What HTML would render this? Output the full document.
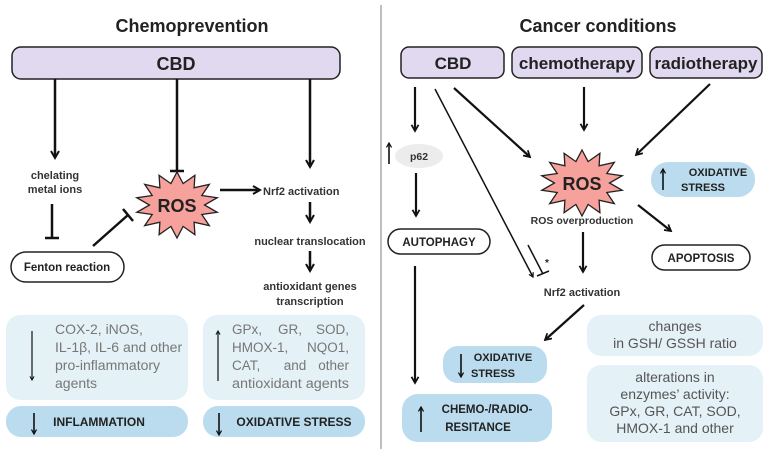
<!DOCTYPE html>
<html><head><meta charset="utf-8"><style>
html,body{margin:0;padding:0;background:#fff;}
svg{display:block;font-family:"Liberation Sans",sans-serif;}
.b{font-weight:bold;}
</style></head><body>
<svg width="770" height="449" viewBox="0 0 770 449" xmlns="http://www.w3.org/2000/svg">
<defs>
<marker id="a" viewBox="0 0 10 10" refX="8" refY="5" markerWidth="4" markerHeight="4" orient="auto"><path d="M1,1 L8,5 L1,9" fill="none" stroke="#111" stroke-width="2"/></marker>
</defs>
<rect width="770" height="449" fill="#fff"/>
<line x1="381" y1="5" x2="381" y2="449" stroke="#aaa" stroke-width="1.5"/>

<!-- LEFT -->
<text x="192" y="32" text-anchor="middle" class="b" font-size="18" fill="#222">Chemoprevention</text>
<rect x="12" y="47" width="328" height="32" rx="9" fill="#e0d9f0" stroke="#222" stroke-width="1.5"/>
<text x="176" y="70" text-anchor="middle" class="b" font-size="18" fill="#222">CBD</text>

<g stroke="#111" stroke-width="2.5" fill="none">
<line x1="55" y1="79" x2="55" y2="158" marker-end="url(#a)"/>
<line x1="177" y1="79" x2="177" y2="171"/><line x1="170" y1="171" x2="184" y2="171"/>
<line x1="310" y1="79" x2="310" y2="167" marker-end="url(#a)"/>
<line x1="52" y1="204" x2="52" y2="238"/><line x1="45" y1="238" x2="59" y2="238"/>
<line x1="93" y1="246" x2="128" y2="215"/><line x1="123" y1="209" x2="133" y2="221"/>
<line x1="220" y1="190" x2="260" y2="190" marker-end="url(#a)"/>
<line x1="310" y1="202" x2="310" y2="222" marker-end="url(#a)"/>
<line x1="310" y1="251" x2="310" y2="271" marker-end="url(#a)"/>
</g>
<text x="55" y="179" text-anchor="middle" class="b" font-size="11" fill="#333">chelating</text>
<text x="55" y="193" text-anchor="middle" class="b" font-size="11" fill="#333">metal ions</text>
<polygon id="star1" fill="#f7a19c" stroke="#222" stroke-width="1.3" points=""/>
<text x="177" y="212" text-anchor="middle" class="b" font-size="18" fill="#222">ROS</text>
<text x="263" y="195" class="b" font-size="11" fill="#333">Nrf2 activation</text>
<text x="310" y="245" text-anchor="middle" class="b" font-size="11" fill="#333">nuclear translocation</text>
<text x="310" y="290" text-anchor="middle" class="b" font-size="11" fill="#333">antioxidant genes</text>
<text x="310" y="305" text-anchor="middle" class="b" font-size="11" fill="#333">transcription</text>
<rect x="11" y="252" width="113" height="30" rx="15" fill="#fff" stroke="#222" stroke-width="1.5"/>
<text x="67" y="271" text-anchor="middle" class="b" font-size="11.5" fill="#222">Fenton reaction</text>

<rect x="6" y="315" width="182" height="85" rx="14" fill="#e4f1f7"/>
<rect x="203" y="315" width="162" height="85" rx="14" fill="#e4f1f7"/>
<rect x="6" y="406" width="182" height="31" rx="15" fill="#badcee"/>
<rect x="203" y="406" width="162" height="31" rx="15" fill="#badcee"/>
<g font-size="14" fill="#777">
<text x="55" y="334">COX-2, iNOS,</text>
<text x="55" y="352">IL-1β, IL-6 and other</text>
<text x="55" y="370">pro-inflammatory</text>
<text x="55" y="388">agents</text>
</g>
<g font-size="13.5" fill="#777">
<text x="232" y="334">GPx,</text><text x="290" y="334" text-anchor="middle">GR,</text><text x="349" y="334" text-anchor="end">SOD,</text>
<text x="232" y="352">HMOX-1,</text><text x="349" y="352" text-anchor="end">NQO1,</text>
<text x="232" y="370">CAT,</text><text x="295" y="370" text-anchor="middle">and</text><text x="349" y="370" text-anchor="end">other</text>
<text x="232" y="388" textLength="117" lengthAdjust="spacingAndGlyphs">antioxidant agents</text>
</g>
<g stroke="#222" stroke-width="1.3" fill="none">
<line x1="32" y1="331" x2="32" y2="380" marker-end="url(#a)"/>
<line x1="218" y1="381" x2="218" y2="331" marker-end="url(#a)"/>
</g>
<text x="99" y="426" text-anchor="middle" class="b" font-size="12" fill="#222">INFLAMMATION</text>
<text x="294" y="426" text-anchor="middle" class="b" font-size="12" fill="#222">OXIDATIVE STRESS</text>

<!-- RIGHT -->
<text x="598" y="32" text-anchor="middle" class="b" font-size="18" fill="#222">Cancer conditions</text>
<rect x="401" y="47" width="103" height="31" rx="8" fill="#e0d9f0" stroke="#222" stroke-width="1.5"/>
<rect x="512" y="47" width="130" height="31" rx="8" fill="#e0d9f0" stroke="#222" stroke-width="1.5"/>
<rect x="650" y="47" width="112" height="31" rx="8" fill="#e0d9f0" stroke="#222" stroke-width="1.5"/>
<text x="453" y="69" text-anchor="middle" class="b" font-size="17" fill="#222">CBD</text>
<text x="577" y="69" text-anchor="middle" class="b" font-size="17" fill="#222">chemotherapy</text>
<text x="706" y="69" text-anchor="middle" class="b" font-size="17" fill="#222">radiotherapy</text>

<rect x="651" y="162" width="104" height="35" rx="17" fill="#badcee"/>
<rect x="443" y="346" width="104" height="37" rx="15" fill="#badcee"/>
<rect x="402" y="394" width="150" height="48" rx="16" fill="#badcee"/>

<g stroke="#111" stroke-width="2.2" fill="none">
<line x1="415" y1="87" x2="415" y2="131" marker-end="url(#a)"/>
<line x1="416" y1="173" x2="416" y2="216" marker-end="url(#a)"/>
<line x1="415" y1="266" x2="415" y2="383" marker-end="url(#a)"/>
<line x1="454" y1="88" x2="530" y2="157" marker-end="url(#a)"/>
<line x1="584" y1="87" x2="584" y2="130" marker-end="url(#a)"/>
<line x1="710" y1="84" x2="636" y2="155" marker-end="url(#a)"/>
<line x1="638" y1="205" x2="671" y2="231" marker-end="url(#a)"/>
<line x1="583" y1="232" x2="583" y2="272" marker-end="url(#a)"/>
<line x1="584" y1="305" x2="545" y2="340" marker-end="url(#a)"/>
</g>
<g stroke="#111" stroke-width="1.5" fill="none">
<line x1="435" y1="89" x2="533" y2="277" marker-end="url(#a)"/>
<line x1="528" y1="245" x2="543" y2="274"/><line x1="537" y1="276" x2="549" y2="271"/>
</g>
<g stroke="#111" stroke-width="1.6" fill="none">
<line x1="34" y1="413" x2="34" y2="434" marker-end="url(#a)"/>
<line x1="219" y1="413" x2="219" y2="435" marker-end="url(#a)"/>
<line x1="421" y1="432" x2="421" y2="407" marker-end="url(#a)"/>
<line x1="663" y1="190" x2="663" y2="169" marker-end="url(#a)"/>
<line x1="461" y1="354" x2="461" y2="377" marker-end="url(#a)"/>
<line x1="389" y1="164" x2="389" y2="143" marker-end="url(#a)"/>
</g>
<text x="545" y="266" class="b" font-size="10" fill="#222">*</text>
<ellipse cx="419" cy="156" rx="24" ry="12" fill="#ececec"/>
<text x="419" y="160" text-anchor="middle" class="b" font-size="10.5" fill="#333">p62</text>
<rect x="388" y="229" width="102" height="25" rx="12.5" fill="#fff" stroke="#222" stroke-width="1.5"/>
<text x="439" y="246" text-anchor="middle" class="b" font-size="11.5" fill="#222">AUTOPHAGY</text>
<polygon id="star2" fill="#f7a19c" stroke="#222" stroke-width="1.3" points=""/>
<text x="582" y="190" text-anchor="middle" class="b" font-size="18" fill="#222">ROS</text>
<text x="582" y="224" text-anchor="middle" class="b" font-size="10.5" fill="#333">ROS overproduction</text>
<text x="718" y="176" text-anchor="middle" class="b" font-size="11" fill="#222">OXIDATIVE</text>
<text x="703" y="191" text-anchor="middle" class="b" font-size="11" fill="#222">STRESS</text>
<rect x="652" y="245" width="98" height="25" rx="12.5" fill="#fff" stroke="#222" stroke-width="1.5"/>
<text x="701" y="262" text-anchor="middle" class="b" font-size="11.5" fill="#222">APOPTOSIS</text>
<text x="582" y="296" text-anchor="middle" class="b" font-size="11" fill="#333">Nrf2 activation</text>
<text x="503" y="361" text-anchor="middle" class="b" font-size="11" fill="#222">OXIDATIVE</text>
<text x="493" y="377" text-anchor="middle" class="b" font-size="11" fill="#222">STRESS</text>
<text x="487" y="413" text-anchor="middle" class="b" font-size="11.5" fill="#222">CHEMO-/RADIO-</text>
<text x="478" y="431" text-anchor="middle" class="b" font-size="11.5" fill="#222">RESITANCE</text>
<rect x="587" y="315" width="176" height="41" rx="14" fill="#e4f1f7"/>
<rect x="587" y="365" width="176" height="77" rx="14" fill="#e4f1f7"/>
<g font-size="14" fill="#555" text-anchor="middle">
<text x="675" y="331">changes</text>
<text x="675" y="348">in GSH/ GSSH ratio</text>
<text x="675" y="382">alterations in</text>
<text x="675" y="399">enzymes’ activity:</text>
<text x="675" y="416">GPx, GR, CAT, SOD,</text>
<text x="675" y="433">HMOX-1 and other</text>
</g>
<script>
function star(id,cx,cy,ro,ri,n){var p=[];for(var i=0;i<2*n;i++){var r=i%2?ri:ro;var a=Math.PI*i/n-Math.PI/2;p.push((cx+r*1.25*Math.cos(a)).toFixed(1)+','+(cy+r*Math.sin(a)).toFixed(1));}document.getElementById(id).setAttribute('points',p.join(' '));}
star('star1',177,205,33,22,14);
star('star2',582,183,33,22,14);
</script>
</svg>
</body></html>
